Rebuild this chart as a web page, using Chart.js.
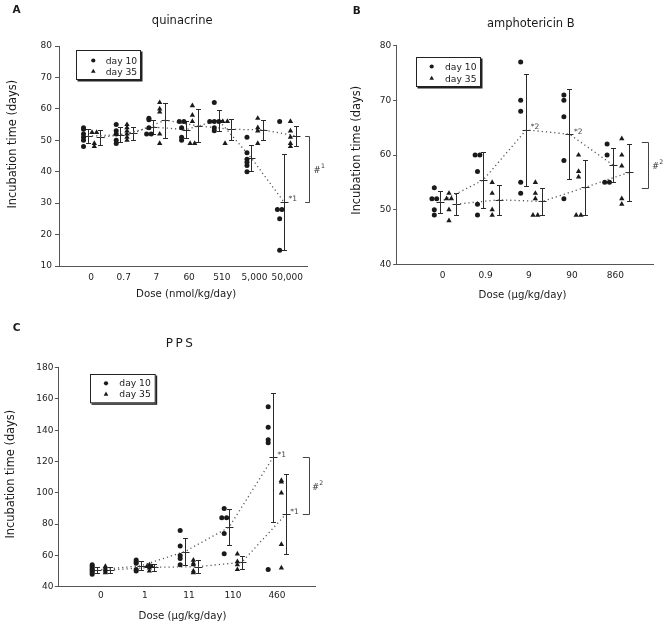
<!DOCTYPE html>
<html><head><meta charset="utf-8">
<script src="https://cdn.jsdelivr.net/npm/chart.js@4.4.1/dist/chart.umd.min.js"></script>
<style>
html,body{margin:0;padding:0;background:#fff}
body{width:664px;height:627px;position:relative;overflow:hidden}
canvas{position:absolute}
</style></head><body>
<canvas id="cA" width="332" height="305" style="left:0;top:0"></canvas>
<canvas id="cB" width="332" height="305" style="left:332px;top:0"></canvas>
<canvas id="cC" width="332" height="312" style="left:0;top:315px"></canvas>
<script>
// ---------------- DATA ----------------
// Panel A: quinacrine
const quinDoses = ['0', '0.7', '7', '60', '510', '5,000', '50,000'];
const quinDay10 = [
  [54, 53.5, 52, 51, 50, 48],
  [55, 53, 52, 50, 49],
  [57, 56.5, 54, 52, 52],
  [56, 56, 54, 51, 50],
  [62, 56, 56, 56, 54, 53],
  [51, 46, 44, 43, 42, 40],
  [56, 28, 28, 25, 15]
];
const quinDay35 = [
  [52.5, 52.5, 49, 48],
  [55, 54, 53, 52, 51, 50],
  [62, 60, 59, 52, 49],
  [61, 58, 56, 49, 49],
  [56, 56, 49],
  [57, 54, 53, 49],
  [56, 53, 51, 49, 48]
];
const quinMean10 = [51.3, 51.8, 54.2, 53.4, 56.4, 44.4, 30.4];
const quinSD10   = [2.2, 2.5, 2.2, 2.8, 3.3, 4.2, 15.3];
const quinMean35 = [50.9, 52.2, 56.4, 54.6, 53.5, 53.3, 51.4];
const quinSD35   = [2.3, 2.0, 5.6, 5.3, 3.4, 3.2, 3.3];
const quinBracket = [51.5, 30.5];
const quinStars = [{series: 10, cat: 6, label: '1'}];

// Panel B: amphotericin B
const amphoDoses = ['0', '0.9', '9', '90', '860'];
const amphoDay10 = [
  [54, 52, 52, 50, 49],
  [60, 60, 57, 51, 49],
  [77, 70, 68, 55, 53],
  [71, 70, 67, 59, 52],
  [62, 60, 55, 55]
];
const amphoDay35 = [
  [53, 52, 52, 50, 48],
  [55, 53, 50, 49],
  [55, 53, 52, 49, 49],
  [60, 57, 56, 49, 49],
  [63, 60, 58, 52, 51]
];
const amphoMean10 = [51.4, 55.4, 64.6, 63.8, 58.2];
const amphoSD10   = [2.0, 5.1, 10.3, 8.2, 3.1];
const amphoMean35 = [51.0, 51.8, 51.5, 54.1, 56.8];
const amphoSD35   = [2.0, 2.7, 2.5, 5.0, 5.2];
const amphoBracket = [62.4, 53.9];
const amphoStars = [{series: 10, cat: 2, label: '2'}, {series: 10, cat: 3, label: '2'}];

// Panel C: PPS
const ppsDoses = ['0', '1', '11', '110', '460'];
const ppsDay10 = [
  [54, 53, 52, 51, 50, 49, 48],
  [57, 56, 55, 51, 50],
  [76, 66, 60, 58, 54],
  [90, 84, 84, 74, 61],
  [155, 142, 134, 132, 51]
];
const ppsDay35 = [
  [53, 52, 51, 50, 49],
  [54, 53, 53, 52, 50],
  [57, 55, 54, 50, 49],
  [61, 56, 54, 51],
  [108, 107, 100, 67, 52]
];
const ppsMean10 = [50.7, 53.4, 62.5, 78.0, 122.6];
const ppsSD10   = [2.1, 3.0, 8.5, 11.5, 41.2];
const ppsMean35 = [50.7, 52.4, 52.8, 55.6, 86.3];
const ppsSD35   = [1.9, 2.1, 4.0, 4.0, 25.5];
const ppsBracket = [122.7, 86.5];
const ppsStars = [{series: 10, cat: 4, label: '1'}, {series: 35, cat: 4, label: '1'}];

// ---------------- LAYOUT / STYLE ----------------
const FONT = '"DejaVu Sans", Verdana, sans-serif';
const INK = '#1a1a1a';
const AXIS = '#555';

const panels = [
  { id: 'cA', letter: 'A', letterPos: [12.5, 12.8], title: 'quinacrine', titlePos: [182.2, 24], titleSize: 11.5, titleSpacing: 0,
    cats: quinDoses, d10: quinDay10, d35: quinDay35, m10: quinMean10, s10: quinSD10, m35: quinMean35, s35: quinSD35,
    yMin: 10, yMax: 80, yStep: 10, xMin: -0.98, xMax: 6.606,
    area: {left: 59, right: 307, top: 46, bottom: 266},
    off: {dot: -0.23, e10: -0.10, tri: 0.10, e35: 0.27}, jit: 0.14,
    tickLen: 4, yPad: 3, xPad: 6.2,
    xTitle: 'Dose (nmol/kg/day)', xTitlePos: [186.2, 297], yTitlePos: [15.5, 144.2],
    legend: {dx: 17, dy: 4, w: 65, h: 30, sx: 17.3, tx: 29.7, r1: 10.5, r2: 21.5},
    bracket: quinBracket, brDx: 2, brLen: 4.3, hashDx: 4, hashText: '1',
    stars: quinStars },
  { id: 'cB', letter: 'B', letterPos: [20.7, 14], title: 'amphotericin B', titlePos: [198.8, 26.7], titleSize: 11.5, titleSpacing: 0,
    cats: amphoDoses, d10: amphoDay10, d35: amphoDay35, m10: amphoMean10, s10: amphoSD10, m35: amphoMean35, s35: amphoSD35,
    yMin: 40, yMax: 80, yStep: 10, xMin: -1.06, xMax: 4.873,
    area: {left: 64.7, right: 321, top: 45.7, bottom: 264.3},
    off: {dot: -0.19, e10: -0.06, tri: 0.15, e35: 0.31}, jit: 0.11,
    tickLen: 3.5, yPad: 2, xPad: 6.4,
    xTitle: 'Dose (\u00b5g/kg/day)', xTitlePos: [190.5, 298.3], yTitlePos: [27.8, 150.3],
    legend: {dx: 19.3, dy: 11, w: 65, h: 30, sx: 15.7, tx: 29, r1: 9.5, r2: 21.5},
    bracket: amphoBracket, brDx: -4.7, brLen: 6.7, hashDx: 3.4, hashText: '2',
    stars: amphoStars },
  { id: 'cC', letter: 'C', letterPos: [12.7, 15.7], title: 'PPS', titlePos: [165.7, 32.3], titleSize: 12, titleSpacing: 2.5,
    cats: ppsDoses, d10: ppsDay10, d35: ppsDay35, m10: ppsMean10, s10: ppsSD10, m35: ppsMean35, s35: ppsSD35,
    yMin: 40, yMax: 180, yStep: 20, xMin: -0.97, xMax: 4.864,
    area: {left: 58.3, right: 315, top: 52.7, bottom: 271.7},
    off: {dot: -0.20, e10: -0.09, tri: 0.10, e35: 0.20}, jit: 0.11,
    tickLen: 3.5, yPad: 1.3, xPad: 4,
    xTitle: 'Dose (\u00b5g/kg/day)', xTitlePos: [182.5, 304.3], yTitlePos: [14, 159.2],
    legend: {dx: 31.7, dy: 6.3, w: 65.7, h: 29.3, sx: 16, tx: 29.3, r1: 9.3, r2: 20.3},
    bracket: ppsBracket, brDx: -5.7, brLen: 6.7, hashDx: 2.4, hashText: '2',
    stars: ppsStars }
];

function makePlugin(p) {
  return {
    id: 'extras' + p.id,
    beforeDatasetsDraw(chart) {
      const ctx = chart.ctx, xs = chart.scales.x, ys = chart.scales.y;
      const bars = (means, sds, off) => {
        ctx.save();
        ctx.strokeStyle = '#2a2a2a';
        ctx.lineWidth = 1;
        ctx.beginPath();
        means.forEach((m, i) => {
          const px = Math.round(xs.getPixelForValue(i + off)) + 0.5;
          const yt = Math.round(ys.getPixelForValue(m + sds[i])) + 0.5;
          const yb = Math.round(ys.getPixelForValue(m - sds[i])) + 0.5;
          const ym = Math.round(ys.getPixelForValue(m)) + 0.5;
          ctx.moveTo(px, yt); ctx.lineTo(px, yb);
          ctx.moveTo(px - 2.5, yt); ctx.lineTo(px + 2.5, yt);
          ctx.moveTo(px - 2.5, yb); ctx.lineTo(px + 2.5, yb);
          ctx.moveTo(px - 4, ym); ctx.lineTo(px + 4, ym);
        });
        ctx.stroke();
        ctx.restore();
      };
      bars(p.m10, p.s10, p.off.e10);
      bars(p.m35, p.s35, p.off.e35);
    },
    afterDraw(chart) {
      const ctx = chart.ctx, xs = chart.scales.x, ys = chart.scales.y, a = chart.chartArea;
      const t = (s, x, y, size, o = {}) => {
        ctx.save();
        ctx.font = (o.bold ? 'bold ' : '') + size + 'px ' + FONT;
        ctx.fillStyle = o.color || INK;
        ctx.textAlign = o.align || 'left';
        ctx.textBaseline = 'alphabetic';
        if (o.spacing) ctx.letterSpacing = o.spacing + 'px';
        if (o.rot) { ctx.translate(x, y); ctx.rotate(o.rot); ctx.fillText(s, 0, 0); }
        else ctx.fillText(s, x, y);
        const w = ctx.measureText(s).width;
        ctx.restore();
        return w;
      };
      // panel letter + title
      t(p.letter, p.letterPos[0], p.letterPos[1], 10.5, {bold: true});
      t(p.title, p.titlePos[0], p.titlePos[1], p.titleSize, {align: p.titleSpacing ? 'left' : 'center', spacing: p.titleSpacing});
      // axis titles
      t(p.xTitle, p.xTitlePos[0], p.xTitlePos[1], 10.2, {align: 'center'});
      t('Incubation time (days)', p.yTitlePos[0], p.yTitlePos[1], 11.4, {align: 'center', rot: -Math.PI / 2});

      // legend
      const L = p.legend;
      const lx = Math.round(a.left + L.dx), ly = Math.round(a.top + L.dy);
      ctx.save();
      ctx.fillStyle = '#222';
      ctx.fillRect(lx + 1.5, ly + 1.5, L.w, L.h);
      ctx.fillStyle = '#fff';
      ctx.fillRect(lx, ly, L.w, L.h);
      ctx.strokeStyle = '#222';
      ctx.lineWidth = 1;
      ctx.strokeRect(lx + 0.5, ly + 0.5, L.w - 1, L.h - 1);
      ctx.fillStyle = INK;
      ctx.beginPath();
      ctx.arc(lx + L.sx, ly + L.r1, 2.1, 0, Math.PI * 2);
      ctx.fill();
      const r = 2.7, cx = lx + L.sx, cy = ly + L.r2;
      ctx.beginPath();
      ctx.moveTo(cx, cy - r);
      ctx.lineTo(cx + r * 0.866, cy + r / 2);
      ctx.lineTo(cx - r * 0.866, cy + r / 2);
      ctx.closePath();
      ctx.fill();
      ctx.restore();
      t('day 10', lx + L.tx, ly + L.r1 + 3, 9.2);
      t('day 35', lx + L.tx, ly + L.r2 + 3, 9.2);

      // stars next to means
      p.stars.forEach(s => {
        const means = s.series === 10 ? p.m10 : p.m35;
        const off = s.series === 10 ? p.off.e10 : p.off.e35;
        const sx = xs.getPixelForValue(s.cat + off) + 4.5;
        const sy = ys.getPixelForValue(means[s.cat]) - 3.5;
        t('*' + s.label, sx, sy + 2.8, 7.5, {color: '#444'});
      });

      // bracket with # label
      const bx = Math.round(a.right + p.brDx) + 0.5;
      const y1 = Math.round(ys.getPixelForValue(p.bracket[0])) + 0.5;
      const y2 = Math.round(ys.getPixelForValue(p.bracket[1])) + 0.5;
      ctx.save();
      ctx.strokeStyle = '#444';
      ctx.lineWidth = 1;
      ctx.beginPath();
      ctx.moveTo(bx - p.brLen, y1); ctx.lineTo(bx, y1); ctx.lineTo(bx, y2); ctx.lineTo(bx - p.brLen, y2);
      ctx.stroke();
      ctx.restore();
      const ym = (y1 + y2) / 2;
      const hw = t('#', bx + p.hashDx, ym + 3.5, 8.5, {color: '#333'});
      t(p.hashText, bx + p.hashDx + hw + 0.3, ym - 1.2, 6.2, {color: '#333'});
    }
  };
}

panels.forEach(p => {
  const cv = document.getElementById(p.id);
  const W = cv.width, H = cv.height;
  const scatter = (groups, off) => {
    const out = [];
    groups.forEach((g, i) => {
      const counts = {}, seen = {};
      g.forEach(v => { counts[v] = (counts[v] || 0) + 1; });
      g.forEach(v => {
        const n = counts[v];
        const k = seen[v] = (seen[v] || 0) + 1;
        out.push({x: i + off + (k - 1 - (n - 1) / 2) * p.jit, y: v});
      });
    });
    return out;
  };
  const meanLine = (means, off) => means.map((m, i) => ({x: i + off, y: m}));
  new Chart(cv.getContext('2d'), {
    type: 'scatter',
    data: {
      datasets: [
        {label: 'day 10', data: scatter(p.d10, p.off.dot), pointStyle: 'circle', pointRadius: 2.5, pointHoverRadius: 2.5,
         backgroundColor: INK, borderColor: INK, pointBorderWidth: 0, showLine: false},
        {label: 'day 35', data: scatter(p.d35, p.off.tri), pointStyle: 'triangle', pointRadius: 3.1, pointHoverRadius: 3.1,
         backgroundColor: INK, borderColor: INK, pointBorderWidth: 0, showLine: false},
        {label: 'day 10 mean', data: meanLine(p.m10, p.off.e10), showLine: true, borderColor: '#555', borderWidth: 1.3,
         borderDash: [1.2, 3], pointRadius: 0, pointHoverRadius: 0, fill: false, tension: 0},
        {label: 'day 35 mean', data: meanLine(p.m35, p.off.e35), showLine: true, borderColor: '#555', borderWidth: 1.3,
         borderDash: [1.2, 3], pointRadius: 0, pointHoverRadius: 0, fill: false, tension: 0}
      ]
    },
    options: {
      responsive: false, animation: false, events: [],
      layout: {padding: {top: p.area.top, right: W - p.area.right, bottom: 0, left: 0}},
      plugins: {legend: {display: false}, tooltip: {enabled: false}, title: {display: false}},
      scales: {
        x: {
          type: 'linear', min: p.xMin, max: p.xMax,
          afterBuildTicks: s => { s.ticks = p.cats.map((c, i) => ({value: i})); },
          afterFit: s => { s.height = H - p.area.bottom; },
          ticks: {callback: v => (p.cats[Math.round(v)] ?? ''), autoSkip: false, maxRotation: 0, minRotation: 0,
                  padding: p.xPad, color: '#222', font: {family: FONT, size: 9}},
          grid: {display: false, drawTicks: false},
          border: {display: true, color: AXIS, width: 1}
        },
        y: {
          min: p.yMin, max: p.yMax,
          afterFit: s => { s.width = p.area.left; },
          ticks: {stepSize: p.yStep, padding: p.yPad, color: '#222', font: {family: FONT, size: 9}},
          grid: {display: true, drawOnChartArea: false, drawTicks: true, tickLength: p.tickLen, color: AXIS, lineWidth: 1},
          border: {display: true, color: AXIS, width: 1}
        }
      }
    },
    plugins: [makePlugin(p)]
  });
});
</script>
</body></html>
